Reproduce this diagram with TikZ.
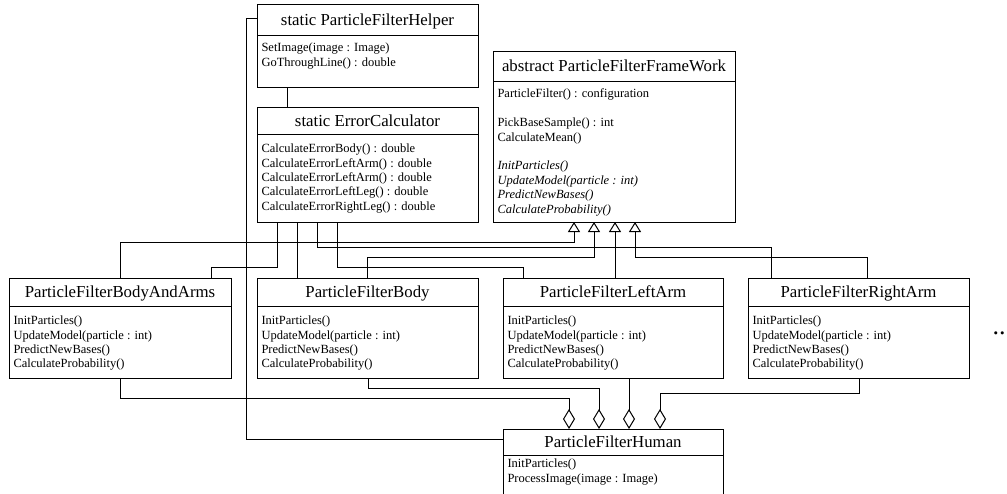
\documentclass[tikz,border=0pt]{standalone}
\usepackage{fontspec}
\setmainfont{Liberation Serif}
\usetikzlibrary{arrows.meta}
\begin{document}
\begin{tikzpicture}[x=1pt,y=-1pt,
  line width=1pt,
  cls/.style={draw, line width=1pt, inner sep=0pt, outer sep=0pt},
  ttl/.style={anchor=base, inner sep=0pt, font=\fontsize{16.8}{20}\selectfont},
  mem/.style={anchor=north west, inner sep=0pt, align=left, font=\fontsize{12.5}{14.4}\selectfont},
  inh/.style={-{Triangle[open,width=12pt,length=10pt]}},
  agg/.style={-{Diamond[open,width=12pt,length=20pt]}},
]
\useasboundingbox (0,0) rectangle (1007,493);
\fill[white] (0,0) rectangle (1007,493);
\clip (0,0) rectangle (1007,493);

% class boxes
\node[cls, minimum width=221pt, minimum height=83pt]  (helper)   at (367.5,45.5) {};
\node[cls, minimum width=221pt, minimum height=115pt] (ec)       at (367.5,164.5) {};
\node[cls, minimum width=242pt, minimum height=171pt] (abs)      at (614,136.5) {};
\node[cls, minimum width=222pt, minimum height=100pt] (bodyarms) at (120,328) {};
\node[cls, minimum width=221pt, minimum height=100pt] (body)     at (367.5,328) {};
\node[cls, minimum width=220pt, minimum height=100pt] (leftarm)  at (613,328) {};
\node[cls, minimum width=221pt, minimum height=100pt] (rightarm) at (858.5,328) {};
\node[cls, minimum width=220pt, minimum height=91pt]  (human)    at (613,474.5) {};

% dividers
\draw (helper.west |- 0,35) -- (helper.east |- 0,35);
\draw (ec.west |- 0,134) -- (ec.east |- 0,134);
\draw (abs.west |- 0,81) -- (abs.east |- 0,81);
\draw (bodyarms.west |- 0,306) -- (bodyarms.east |- 0,306);
\draw (body.west |- 0,306) -- (body.east |- 0,306);
\draw (leftarm.west |- 0,306) -- (leftarm.east |- 0,306);
\draw (rightarm.west |- 0,306) -- (rightarm.east |- 0,306);
\draw (human.west |- 0,455) -- (human.east |- 0,455);

% titles
\node[ttl] (helpert)   at (367.5,25) {static ParticleFilterHelper};
\node[ttl] (ect)       at (367.5,126) {static ErrorCalculator};
\node[ttl] (abst)      at (614,71.5) {abstract ParticleFilterFrameWork};
\node[ttl] (bodyarmst) at (120,297.5) {ParticleFilterBodyAndArms};
\node[ttl] (bodyt)     at (367.5,297.5) {ParticleFilterBody};
\node[ttl] (leftarmt)  at (613,297.5) {ParticleFilterLeftArm};
\node[ttl] (rightarmt) at (858.5,297.5) {ParticleFilterRightArm};
\node[ttl] (humant)    at (613,447.5) {ParticleFilterHuman};

% members
\node[mem] (helperm) at (261,42.5) {SetImage(image : Image)\\GoThroughLine() : double};
\node[mem] (ecm) at (261,143.5) {CalculateErrorBody() : double\\CalculateErrorLeftArm() : double\\CalculateErrorLeftArm() : double\\CalculateErrorLeftLeg() : double\\CalculateErrorRightLeg() : double};
\node[mem] (absm) at (497,88.5) {ParticleFilter() : configuration\\[14.4pt]PickBaseSample() : int\\CalculateMean()\\[14.4pt]\textit{InitParticles()}\\\textit{UpdateModel(particle : int)}\\\textit{PredictNewBases()}\\\textit{CalculateProbability()}};
\node[mem] (bodyarmsm) at (13,315.5) {InitParticles()\\UpdateModel(particle : int)\\PredictNewBases()\\CalculateProbability()};
\node[mem] (bodym) at (261,315.5) {InitParticles()\\UpdateModel(particle : int)\\PredictNewBases()\\CalculateProbability()};
\node[mem] (leftarmm) at (507,315.5) {InitParticles()\\UpdateModel(particle : int)\\PredictNewBases()\\CalculateProbability()};
\node[mem] (rightarmm) at (752,315.5) {InitParticles()\\UpdateModel(particle : int)\\PredictNewBases()\\CalculateProbability()};
\node[mem] (humanm) at (507,458.5) {InitParticles()\\ProcessImage(image : Image)};

% more
\node[anchor=base west, inner sep=0pt, font=\fontsize{26}{26}\selectfont] (more) at (992,334.5) {..};

% connectors
\draw (helper.south -| 287,0) -- (ec.north -| 287,0);
\draw (helper.west |- 0,18) -- (246,18) |- (human.west |- 0,439);
\draw (ec.south -| 277,0) |- (211,267) -- (bodyarms.north -| 211,0);
\draw (ec.south -| 297,0) -- (body.north -| 297,0);
\draw (ec.south -| 317,0) |- (771,247) -- (rightarm.north -| 771,0);
\draw (ec.south -| 337,0) |- (523,267) -- (leftarm.north -| 523,0);
\draw[inh] (bodyarms.north -| 120,0) |- (574,242) -- (abs.south -| 574,0);
\draw[inh] (body.north -| 367,0) |- (594,257) -- (abs.south -| 594,0);
\draw[inh] (leftarm.north -| 615,0) -- (abs.south -| 615,0);
\draw[inh] (rightarm.north -| 867,0) |- (635,257) -- (abs.south -| 635,0);
\draw[agg] (bodyarms.south -| 120,0) |- (569,398) -- (human.north -| 569,0);
\draw[agg] (body.south -| 368,0) |- (599,388) -- (human.north -| 599,0);
\draw[agg] (leftarm.south -| 629,0) -- (human.north -| 629,0);
\draw[agg] (rightarm.south -| 859,0) |- (660,393) -- (human.north -| 660,0);
\end{tikzpicture}
\end{document}
